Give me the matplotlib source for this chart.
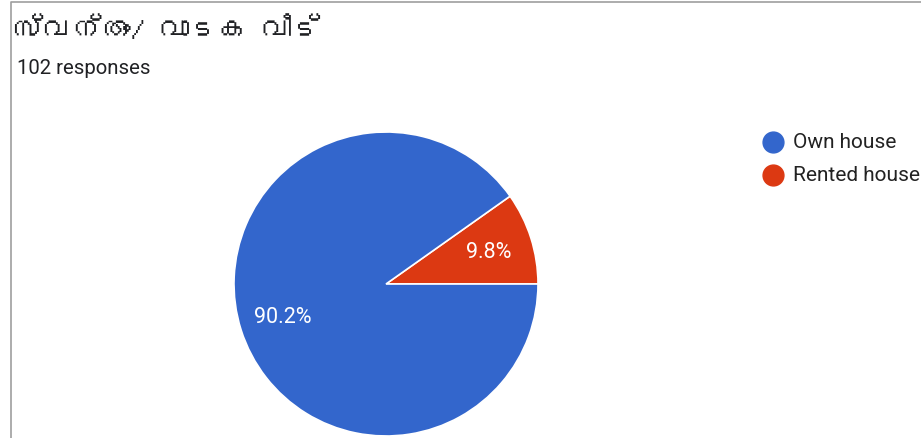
import matplotlib.pyplot as plt
from matplotlib import font_manager
from matplotlib.ft2font import FT2Font
from matplotlib.lines import Line2D

title = 'സ്വന്തം/ വാടക വീട്'
subtitle = '102 responses'
labels = ['Own house', 'Rented house']
counts = [92, 10]
colors = ['#3366cc', '#dc3912']

# find an installed family that can draw Malayalam
def pick_family(ch, fallback='DejaVu Sans'):
    for f in font_manager.fontManager.ttflist:
        try:
            if ord(ch) in FT2Font(f.fname).get_charmap():
                return f.name
        except Exception:
            pass
    return fallback

ml_family = pick_family('സ')
plt.rcParams['font.family'] = ['Roboto', 'DejaVu Sans']

fig = plt.figure(figsize=(9.21, 4.39), dpi=100)

# card border
fig.add_artist(Line2D([10.5/921, 10.5/921, 1], [0, 1 - 2.5/439, 1 - 2.5/439],
                      transform=fig.transFigure, color='#9e9e9e', lw=1.2))

fig.text(14/921, 1 - 30/439, title, family=[ml_family, 'DejaVu Sans'],
         fontsize=21, color='#202124', va='center', ha='left')
fig.text(17/921, 1 - 68/439, subtitle, fontsize=14.7, color='#202124',
         va='center', ha='left')

# pie: 152 px radius centred at (386, 285)
r = 152
ax = fig.add_axes([(386 - r)/921, (439 - 285 - r)/439, 2*r/921, 2*r/439])
# draw rented first so it sits just above 3 o'clock
wedges, texts, autotexts = ax.pie(
    counts[::-1], colors=colors[::-1], startangle=0, counterclock=True,
    autopct=lambda p: f'{p:.1f}%', pctdistance=0.71,
    wedgeprops=dict(edgecolor='white', linewidth=1.2),
    textprops=dict(color='white', fontsize=15.5))
ax.set_aspect('equal')
ax.set_xlim(-1, 1)
ax.set_ylim(-1, 1)

# legend
for i, (lab, col) in enumerate(zip(labels, colors)):
    y = 1 - (142.5 + 33*i)/439
    fig.add_artist(Line2D([773/921], [y], marker='o', markersize=15,
                          color=col, transform=fig.transFigure))
    fig.text(793/921, y, lab, fontsize=15, color='#222222', va='center', ha='left')

fig.savefig('out.png', dpi=100)
